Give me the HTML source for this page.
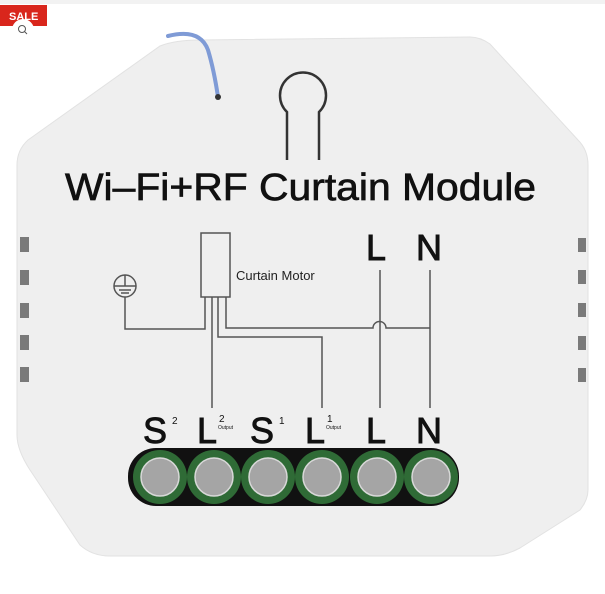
<!DOCTYPE html>
<html><head><meta charset="utf-8"><style>
html,body{margin:0;padding:0;background:#fff}
svg{display:block}
text{font-family:"Liberation Sans",Arial,sans-serif}
</style></head><body>
<svg width="605" height="594" viewBox="0 0 605 594" xmlns="http://www.w3.org/2000/svg">
<rect x="0" y="0" width="605" height="4" fill="#f2f2f2"/>
<path d="M200,40 L470,37 Q480,37 490,44 L578,140 Q588,150 588,165 L588,490 Q588,500 580,510 L520,548 Q505,556 490,556 L110,556 Q92,556 80,545 L30,470 Q17,450 17,435 L17,165 Q17,150 28,140 L160,46 Q175,40 200,40 Z" fill="#efefef" stroke="#e2e2e2" stroke-width="1"/>
<path d="M168,36 Q200,28 208,50 Q214,70 218,97" fill="none" stroke="#7f9bd6" stroke-width="4" stroke-linecap="round"/>
<circle cx="218" cy="97" r="3" fill="#333"/>
<g fill="#7a7a7a">
<rect x="20" y="237" width="9" height="15"/><rect x="20" y="270" width="9" height="15"/><rect x="20" y="303" width="9" height="15"/><rect x="20" y="335" width="9" height="15"/><rect x="20" y="367" width="9" height="15"/>
<rect x="578" y="238" width="8" height="14"/><rect x="578" y="270" width="8" height="14"/><rect x="578" y="303" width="8" height="14"/><rect x="578" y="336" width="8" height="14"/><rect x="578" y="368" width="8" height="14"/>
</g>
<path d="M287,160 L287,112 A23,23 0 1 1 319,112 L319,160" fill="none" stroke="#333" stroke-width="2.5"/>
<text x="65" y="200" font-size="38" textLength="471" lengthAdjust="spacingAndGlyphs" fill="#111" stroke="#111" stroke-width="0.7">Wi–Fi+RF Curtain Module</text>
<g fill="none" stroke="#555" stroke-width="1.5">
<rect x="201" y="233" width="29" height="64"/>
<circle cx="125" cy="286" r="11"/>
<path d="M114,286 H136 M125,275 V286 M119,290 H131 M121,293 H129"/>
<path d="M125,297 V329 H205 V297"/>
<path d="M212,297 V408"/>
<path d="M218,297 V337 H322 V408"/>
<path d="M226,297 V328 H373 A6,6 0 0 1 386,328 H430"/>
<path d="M380,270 V408"/>
<path d="M430,270 V408"/>
</g>
<text x="236" y="280" font-size="13" fill="#222">Curtain Motor</text>
<g font-size="36" fill="#111" stroke="#111" stroke-width="0.9">
<text x="366" y="260">L</text><text x="416" y="260">N</text>
<text x="143" y="443">S</text><text x="197" y="443">L</text><text x="250" y="443">S</text><text x="305" y="443">L</text><text x="366" y="443">L</text><text x="416" y="443">N</text>
</g>
<g fill="#111">
<text x="172" y="424" font-size="10">2</text>
<text x="219" y="422" font-size="10">2</text><text x="218" y="429" font-size="5">Output</text>
<text x="279" y="424" font-size="10">1</text>
<text x="327" y="422" font-size="10">1</text><text x="326" y="429" font-size="5">Output</text>
</g>
<rect x="128" y="448" width="331" height="58" rx="28" fill="#111"/>
<g fill="#2f6b36">
<circle cx="160" cy="477" r="27"/><circle cx="214" cy="477" r="27"/><circle cx="268" cy="477" r="27"/><circle cx="322" cy="477" r="27"/><circle cx="377" cy="477" r="27"/><circle cx="431" cy="477" r="27"/>
</g>
<g fill="#a5a5a5" stroke="#d8d8d8" stroke-width="1.5">
<circle cx="160" cy="477" r="19"/><circle cx="214" cy="477" r="19"/><circle cx="268" cy="477" r="19"/><circle cx="322" cy="477" r="19"/><circle cx="377" cy="477" r="19"/><circle cx="431" cy="477" r="19"/>
</g>
<rect x="0" y="5" width="47" height="21" fill="#d9261c"/>
<text x="9" y="20" font-size="11" font-weight="bold" fill="#fff">SALE</text>
<circle cx="23" cy="30" r="11" fill="#fff"/>
<circle cx="22" cy="29" r="3.5" fill="none" stroke="#555" stroke-width="1"/>
<path d="M24.5,31.5 L27,34" stroke="#555" stroke-width="1"/>
</svg>
</body></html>
